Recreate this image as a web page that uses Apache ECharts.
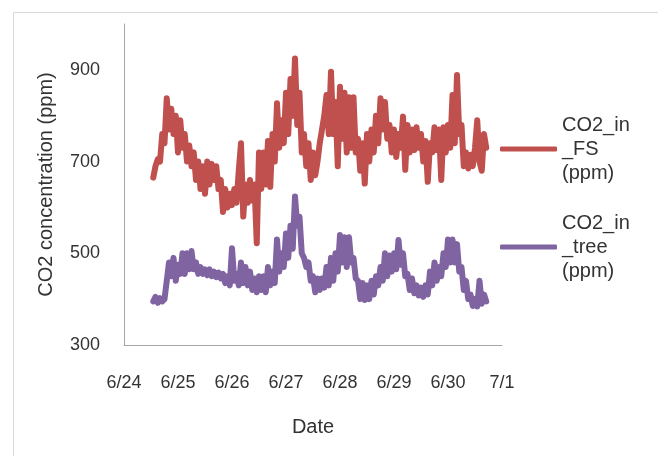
<!DOCTYPE html>
<html>
<head>
<meta charset="utf-8">
<script src="https://cdn.jsdelivr.net/npm/echarts@6/dist/echarts.min.js"></script>
<style>
  html, body { margin: 0; padding: 0; background: #fff; }
  #chart { width: 658px; height: 456px; }
</style>
</head>
<body>
<div id="chart"></div>
<script>
// x axis is hours from 6/24 00:00, one label per day
const dateLabels = ['6/24', '6/25', '6/26', '6/27', '6/28', '6/29', '6/30', '7/1']
const startHour = 13

// hourly readings, upper / lower envelope
const fsValues = [
  665, 690, 705, 700, 760, 740, 838, 770, 815, 760,
  800, 720, 790, 730, 760, 700, 735, 690, 720, 660,
  700, 640, 690, 630, 700, 650, 695, 660, 690, 640,
  660, 590, 640, 600, 630, 605, 640, 610, 680, 740,
  580, 650, 610, 660, 615, 650, 522, 720, 640, 720,
  650, 745, 645, 760, 700, 827, 730, 790, 740, 850,
  760, 880, 800, 925, 780, 850, 720, 760, 690, 740,
  660, 720, 670, 700, 740, 770, 800, 845, 760, 896,
  760, 830, 690, 863, 750, 850, 720, 840, 730, 840,
  720, 750, 680, 740, 652, 760, 700, 770, 720, 800,
  740, 838, 770, 830, 750, 780, 720, 770, 710, 760,
  730, 798, 682, 780, 720, 770, 725, 775, 730, 760,
  700, 745, 656, 740, 720, 775, 725, 770, 660, 775,
  720, 780, 730, 845, 740, 889, 760, 780, 690, 720,
  685, 715, 690, 730, 790, 700, 680, 760, 730
]
const treeValues = [
  395, 405, 392, 402, 395, 400, 440, 480, 450, 490,
  440, 475, 455, 500, 455, 500, 465, 505, 465, 480,
  455, 470, 455, 465, 452, 465, 450, 460, 448, 458,
  445, 455, 435, 450, 430, 511, 440, 455, 430, 480,
  435, 470, 430, 460, 420, 445, 415, 450, 420, 450,
  415, 470, 430, 460, 435, 530, 460, 500, 470, 543,
  490, 560, 510, 624, 560, 580, 500, 490, 470, 480,
  440, 450, 415, 445, 420, 445, 425, 470, 430, 490,
  440, 500, 460, 540, 480, 535, 470, 535, 480, 490,
  445, 440, 400, 435, 398, 430, 400, 440, 410, 450,
  430, 470, 440, 500, 450, 495, 460, 500, 465, 529,
  475, 500, 450, 455, 420, 445, 413, 430, 408, 425,
  405, 430, 410, 460, 430, 480, 440, 470, 450, 500,
  470, 530, 480, 530, 480, 520, 460, 470, 420, 440,
  400, 410, 385, 400, 384, 440, 390, 410, 395
]

const fsName = 'CO2_in_FS (ppm)'
const treeName = 'CO2_in_tree (ppm)'
const legendText = {}
legendText[fsName] = 'CO2_in\n_FS\n(ppm)'
legendText[treeName] = 'CO2_in\n_tree\n(ppm)'

const font = "'Liberation Sans', Arial, sans-serif"
const textColor = '#333'
const axisColor = '#a6a6a6'

const toPoints = vals => vals.map((v, i) => [startHour + i, v])

const legendOf = (name, top) => ({
  data: [name],
  left: 500,
  top: top,
  padding: 0,
  orient: 'vertical',
  icon: 'roundRect',
  itemWidth: 57,
  itemHeight: 5,
  formatter: n => legendText[n],
  textStyle: {
    fontFamily: font,
    fontSize: 20,
    lineHeight: 24,
    color: textColor,
    padding: [48, 0, 0, 0]
  }
})

const chart = echarts.init(document.getElementById('chart'))
chart.setOption({
  animation: false,
  backgroundColor: '#fff',
  graphic: [{
    type: 'rect',
    shape: { x: 13.5, y: 12.5, width: 700, height: 500 },
    style: { fill: 'none', stroke: '#d9d9d9', lineWidth: 1 },
    silent: true
  }],
  grid: { left: 124, right: 156, top: 24, bottom: 111 },
  legend: [legendOf(fsName, 89), legendOf(treeName, 187)],
  xAxis: {
    type: 'value',
    min: 0,
    max: 168,
    interval: 24,
    name: 'Date',
    nameLocation: 'middle',
    nameGap: 72,
    nameTextStyle: { fontFamily: font, fontSize: 20, color: textColor },
    axisLine: { lineStyle: { color: axisColor } },
    axisTick: { show: false },
    splitLine: { show: false },
    axisLabel: {
      margin: 29,
      fontFamily: font,
      fontSize: 18,
      color: textColor,
      formatter: v => dateLabels[v / 24]
    }
  },
  yAxis: {
    type: 'value',
    min: 300,
    max: 1000,
    interval: 100,
    name: 'CO2 concentration (ppm)',
    nameLocation: 'middle',
    nameGap: 68,
    nameTextStyle: { fontFamily: font, fontSize: 20, color: textColor },
    axisLine: { show: true, lineStyle: { color: axisColor } },
    axisTick: { show: false },
    splitLine: { show: false },
    axisLabel: {
      margin: 24,
      fontFamily: font,
      fontSize: 18,
      color: textColor,
      formatter: v => ((v - 300) % 200 === 0 && v < 1000 ? v : '')
    }
  },
  series: [
    {
      name: fsName,
      type: 'line',
      showSymbol: false,
      color: '#c0504d',
      lineStyle: { width: 6, cap: 'round', join: 'round' },
      data: toPoints(fsValues)
    },
    {
      name: treeName,
      type: 'line',
      showSymbol: false,
      color: '#8064a2',
      lineStyle: { width: 6, cap: 'round', join: 'round' },
      data: toPoints(treeValues)
    }
  ]
})
</script>
</body>
</html>
